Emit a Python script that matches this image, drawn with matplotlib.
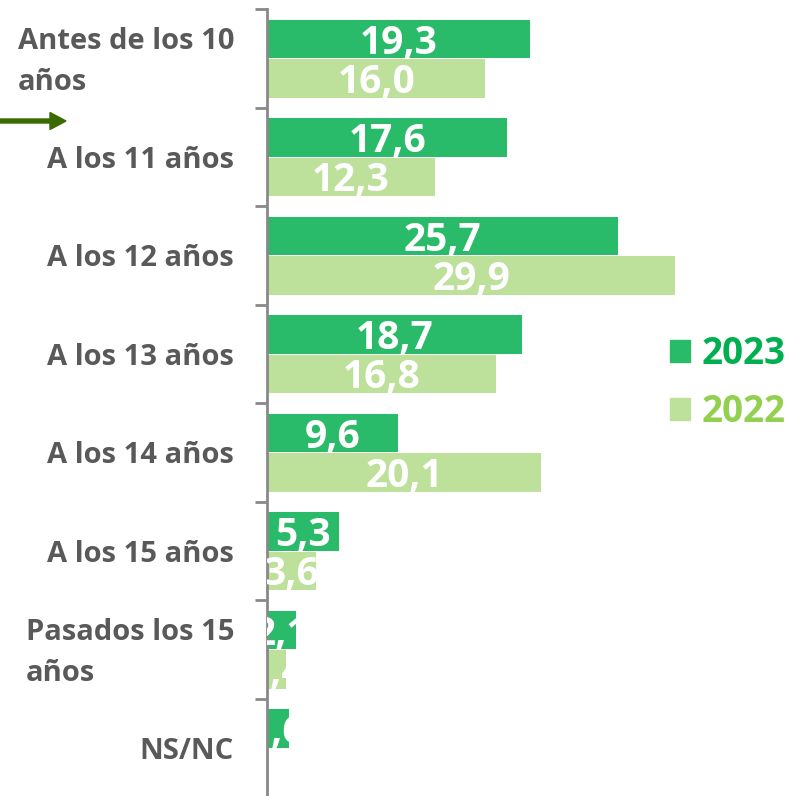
import numpy as np
import matplotlib.pyplot as plt
from matplotlib.patches import FancyArrow

# Data
categories = ['Antes de los 10\naños', 'A los 11 años', 'A los 12 años', 'A los 13 años',
              'A los 14 años', 'A los 15 años', 'Pasados los 15\naños', 'NS/NC']
vals_2023 = [19.3, 17.6, 25.7, 18.7, 9.6, 5.3, 2.1, 1.6]
vals_2022 = [16.0, 12.3, 29.9, 16.8, 20.1, 3.6, 1.4, 0.0]
series_names = ['2023', '2022']

bar_colors = ['#29BB69', '#BDE09A']
text_colors = ['#00B050', '#92D050']
label_gray = '#595959'
axis_gray = '#898989'

W, H = 788, 796
fig = plt.figure(figsize=(W / 100, H / 100), dpi=100)
ax = fig.add_axes([267 / W, -1 / H, 521 / W, 788 / H])

y = np.arange(len(categories))
h = 0.4
for vals, off, col in [(vals_2023, -h / 2, bar_colors[0]), (vals_2022, h / 2, bar_colors[1])]:
    bars = ax.barh(y + off, vals, height=h, color=col, edgecolor='white', linewidth=0.7)
    for b, v in zip(bars, vals):
        if v <= 0:
            continue
        ax.text(b.get_x() + b.get_width() / 2, b.get_y() + b.get_height() / 2,
                f'{v:.1f}'.replace('.', ','), ha='center', va='center_baseline',
                color='white', fontsize=28, fontweight='bold', family='Open Sans',
                clip_on=True, zorder=5)

ax.set_xlim(0, 521 / 13.65)
ax.set_ylim(len(categories) - 0.5, -0.5)

# category boundaries as ticks
ax.set_yticks(np.arange(len(categories) + 1) - 0.5)
ax.set_yticklabels([])
ax.tick_params(axis='y', which='major', length=9, width=2, color=axis_gray)

# category labels
for yi, cat in zip(y, categories):
    dy = 6 if '\n' in cat else 0
    ax.annotate(cat, xy=(0, yi), xycoords=('axes fraction', 'data'),
                xytext=(-33, dy), textcoords='offset pixels',
                ha='right', va='center_baseline', multialignment='left',
                fontsize=21, fontweight='bold', family='Open Sans',
                color=label_gray, linespacing=1.55, annotation_clip=False)

ax.set_xticks([])
for s in ['top', 'right', 'bottom']:
    ax.spines[s].set_visible(False)
ax.spines['left'].set_color(axis_gray)
ax.spines['left'].set_linewidth(2)

# legend
handles = [plt.Rectangle((0, 0), 1, 1, color=c) for c in bar_colors]
leg = fig.legend(handles, series_names, loc='center left', bbox_to_anchor=(637 / W, 1 - 383 / H),
                 frameon=False, handlelength=0.55, handleheight=0.55, handletextpad=0.3,
                 labelspacing=0.55, prop={'family': 'Open Sans', 'weight': 'bold', 'size': 26.5})
for txt, c in zip(leg.get_texts(), text_colors):
    txt.set_color(c)

# arrow on the left
fig.patches.append(FancyArrow(0, 1 - 121 / H, 50 / W, 0, width=4 / H, head_width=17 / H,
                              head_length=16 / W, length_includes_head=False,
                              color='#3A6B00', transform=fig.transFigure, figure=fig))

fig.savefig('out.png', dpi=100)
